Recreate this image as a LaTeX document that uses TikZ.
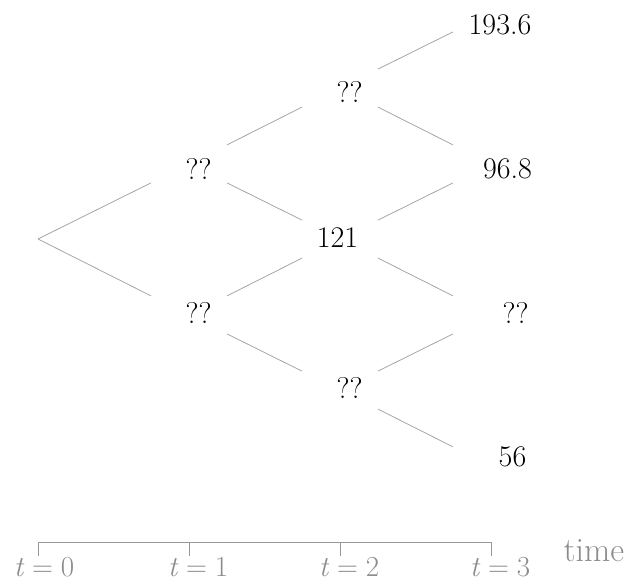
\documentclass[tikz,border=0pt]{standalone}
\usepackage{fontspec}
\definecolor{edgegray}{RGB}{165,165,165}
\definecolor{axisgray}{RGB}{150,150,150}
\definecolor{labgray}{RGB}{140,140,140}
\newcommand{\teq}[1]{\textit{t}\hspace{0.27em}=\hspace{0.27em}#1}
\tikzset{
  val/.style={inner sep=0pt, font=\fontsize{30}{36}\selectfont},
  branch/.style={draw=edgegray, line width=0.8pt, shorten <=42.5pt, shorten >=42.5pt},
  rootbranch/.style={draw=edgegray, line width=0.8pt, shorten >=42.5pt},
  axisline/.style={draw=axisgray, line width=0.8pt},
  tlab/.style={inner sep=0pt, anchor=base, text=labgray, font=\fontsize{29}{34}\selectfont},
}
\begin{document}
\begin{tikzpicture}[x=1pt,y=-1pt]
\useasboundingbox (0,0) rectangle (627,580);
% grid points
\coordinate (R) at (38,239);
\coordinate (U1) at (189,164);
\coordinate (D1) at (189,315);
\coordinate (UU2) at (340,88);
\coordinate (M2) at (340,239);
\coordinate (DD2) at (340,390);
\coordinate (A3) at (491,13);
\coordinate (B3) at (491,164);
\coordinate (C3) at (491,315);
\coordinate (D3) at (491,466);
% values
\node[val] (U1t) at (198.5,169) {??};
\node[val] (D1t) at (198.5,312.5) {??};
\node[val] (UU2t) at (349.5,92) {??};
\node[val] (M2t) at (337.5,237.5) {121};
\node[val] (DD2t) at (349.5,387.5) {??};
\node[val] (A3t) at (500,25) {193.6};
\node[val] (B3t) at (507.5,169) {96.8};
\node[val] (C3t) at (515.5,312.5) {??};
\node[val] (D3t) at (512.5,457) {56};
% branches
\draw[rootbranch] (R) -- (U1);
\draw[rootbranch] (R) -- (D1);
\draw[branch] (U1) -- (UU2);
\draw[branch] (U1) -- (M2);
\draw[branch] (D1) -- (M2);
\draw[branch] (D1) -- (DD2);
\draw[branch] (UU2) -- (A3);
\draw[branch] (UU2) -- (B3);
\draw[branch] (M2) -- (B3);
\draw[branch] (M2) -- (C3);
\draw[branch] (DD2) -- (C3);
\draw[branch] (DD2) -- (D3);
% time axis
\coordinate (T0) at (38,542);
\coordinate (T1) at (189,542);
\coordinate (T2) at (340,542);
\coordinate (T3) at (491,542);
\coordinate (T0b) at (38,556);
\coordinate (T1b) at (189,556);
\coordinate (T2b) at (340,556);
\coordinate (T3b) at (491,556);
\draw[axisline] (T0b) -- (T0) -- (T3) -- (T3b);
\draw[axisline] (T1) -- (T1b);
\draw[axisline] (T2) -- (T2b);
\node[tlab] (L0) at (44,576) {\teq{0}};
\node[tlab] (L1) at (198,576) {\teq{1}};
\node[tlab] (L2) at (349,576) {\teq{2}};
\node[tlab] (L3) at (500,576) {\teq{3}};
\node[tlab, font=\fontsize{34}{38}\selectfont] (LT) at (594,561) {time};
\end{tikzpicture}
\end{document}
